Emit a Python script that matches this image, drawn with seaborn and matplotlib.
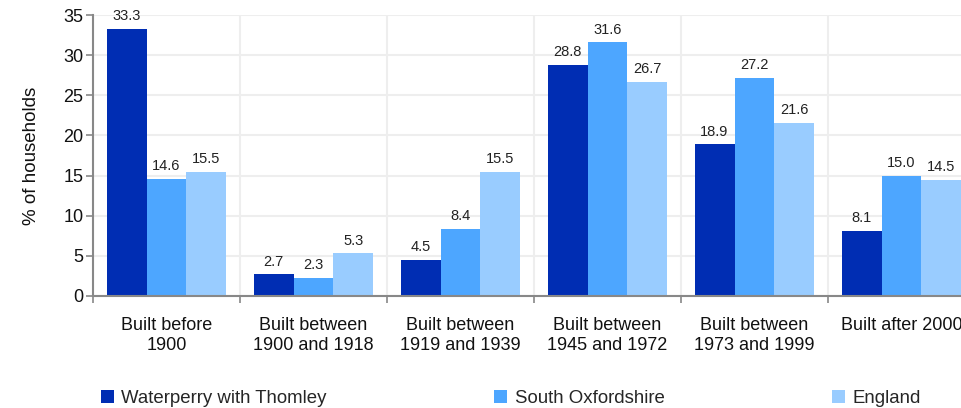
import numpy as np
import pandas as pd
import matplotlib.pyplot as plt
import seaborn as sns
from matplotlib.patches import Patch

categories = [
    "Built before\n1900",
    "Built between\n1900 and 1918",
    "Built between\n1919 and 1939",
    "Built between\n1945 and 1972",
    "Built between\n1973 and 1999",
    "Built after 2000",
]
series_names = ["Waterperry with Thomley", "South Oxfordshire", "England"]
waterperry = [33.3, 2.7, 4.5, 28.8, 18.9, 8.1]
south_oxon = [14.6, 2.3, 8.4, 31.6, 27.2, 15.0]
england = [15.5, 5.3, 15.5, 26.7, 21.6, 14.5]
colors = ["#002DB3", "#4DA6FF", "#99CCFF"]

sns.set_theme(style="white")
plt.rcParams["font.family"] = ["Liberation Sans", "DejaVu Sans"]

rows = []
for name, vals in zip(series_names, [waterperry, south_oxon, england]):
    for cat, v in zip(categories, vals):
        rows.append({"category": cat, "series": name, "value": v})
df = pd.DataFrame(rows)

fig = plt.figure(figsize=(9.62, 4.08), dpi=100)
ax = fig.add_axes([93 / 962, 112 / 408, 882 / 962, 281 / 408])

sns.barplot(
    data=df, x="category", y="value", hue="series",
    order=categories, hue_order=series_names,
    palette=colors, width=0.816, saturation=1, linewidth=0,
    ax=ax, legend=False,
)

for cont in ax.containers:
    ax.bar_label(cont, fmt="%.1f", padding=4, fontsize=10.5, color="#222222")

ax.set_ylim(0, 35)
ax.set_yticks(np.arange(0, 36, 5))
ax.set_xlim(-0.5, 5.5)

# boundaries as major ticks (gridlines), labels at centres as minor ticks
ax.set_xticks(np.arange(-0.5, 6.0, 1.0))
ax.set_xticklabels([])
ax.set_xticks(np.arange(6), minor=True)
ax.set_xticklabels(categories, minor=True, fontsize=13, color="#111111",
                   linespacing=1.25)
ax.tick_params(axis="x", which="minor", length=0, pad=15)
ax.tick_params(axis="x", which="major", direction="out", length=5, color="#888888", width=1.2)
ax.tick_params(axis="y", direction="out", length=5, color="#888888", width=1.2,
               labelsize=13, labelcolor="#111111", pad=2)
ax.tick_params(bottom=True, left=True)

ax.grid(True, which="major", color="#eeeeee", linewidth=1.5)
ax.set_axisbelow(True)
for s in ["top", "right"]:
    ax.spines[s].set_visible(False)
for s in ["left", "bottom"]:
    ax.spines[s].set_color("#888888")
    ax.spines[s].set_linewidth(1.5)

ax.set_xlabel("")
ax.set_ylabel("% of households", fontsize=13.5, color="#111111", labelpad=17)

handles = [Patch(facecolor=c, edgecolor="none") for c in colors]
fig.legend(handles, series_names, loc="lower left", bbox_to_anchor=(84 / 962, -0.038),
           ncol=3, frameon=False, fontsize=13.4, handlelength=0.7, handleheight=0.7,
           handletextpad=0.4, columnspacing=9.0)

fig.savefig("out.png", dpi=100)
